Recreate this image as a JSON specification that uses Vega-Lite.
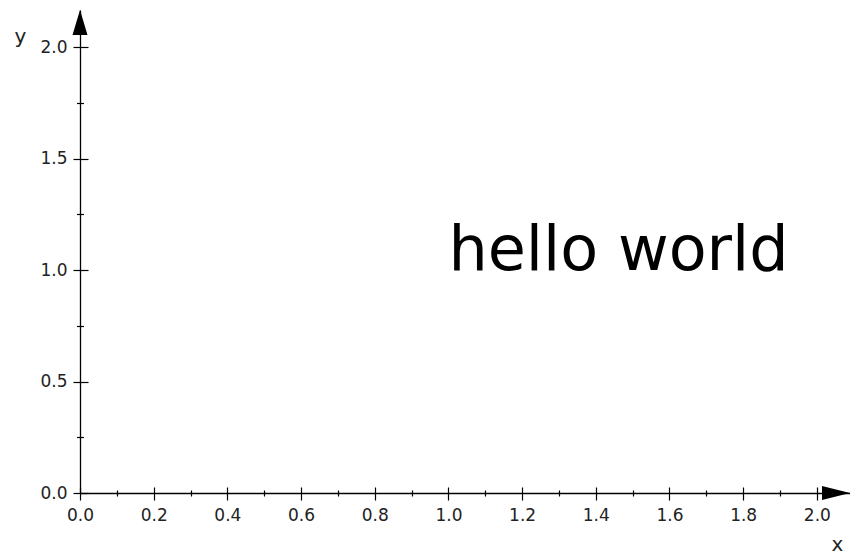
{
  "$schema": "https://vega.github.io/schema/vega-lite/v6.json",
  "width": 770,
  "height": 483,
  "autosize": "none",
  "padding": {"left": 80, "top": 10, "right": 0, "bottom": 63},
  "background": "white",
  "config": {
    "view": {"stroke": null},
    "axis": {
      "grid": false,
      "labelFont": "DejaVu Sans",
      "titleFont": "DejaVu Sans",
      "labelColor": "#222",
      "titleColor": "#222",
      "titleFontWeight": "normal",
      "titleFontSize": 20,
      "tickColor": "#000",
      "domainColor": "#000",
      "labelFontSize": 17,
      "tickWidth": 1.2,
      "domainWidth": 1.3,
      "labelFlush": false,
      "labelOverlap": false
    }
  },
  "resolve": {"axis": {"x": "independent", "y": "independent"}},
  "layer": [
    {
      "data": {"values": [{"x": 1, "y": 1, "label": "hello world"}]},
      "mark": {"type": "text", "align": "left", "baseline": "alphabetic", "fontSize": 62, "font": "DejaVu Sans", "color": "#000"},
      "encoding": {
        "x": {"field": "x", "type": "quantitative", "scale": {"domain": [0, 2.09], "nice": false, "zero": false},
          "axis": {"orient": "bottom", "values": [0, 0.2, 0.4, 0.6, 0.8, 1.0, 1.2, 1.4, 1.6, 1.8, 2.0], "offset": -6, "tickSize": 13, "domain": false, "labelPadding": 7, "format": ".1f", "title": null}},
        "y": {"field": "y", "type": "quantitative", "scale": {"domain": [0, 2.166], "nice": false, "zero": false},
          "axis": {"orient": "left", "values": [0, 0.5, 1.0, 1.5, 2.0], "offset": -8, "tickSize": 15, "domain": false, "labelPadding": 6, "format": ".1f", "title": null}},
        "text": {"field": "label"}
      }
    },
    {
      "data": {"values": [{"x": 2.09, "y": 0}]},
      "mark": {"type": "point", "shape": "M0,0L-2,-0.5L-2,0.5Z", "size": 784, "filled": true, "color": "#000", "opacity": 1, "strokeWidth": 0},
      "encoding": {
        "x": {"field": "x", "type": "quantitative", "scale": {"domain": [0, 2.09], "nice": false, "zero": false},
          "axis": {"orient": "bottom", "values": [0.1, 0.3, 0.5, 0.7, 0.9, 1.1, 1.3, 1.5, 1.7, 1.9], "offset": -3, "tickSize": 6, "domain": false, "labels": false, "title": null}},
        "y": {"field": "y", "type": "quantitative", "scale": {"domain": [0, 2.166], "nice": false, "zero": false},
          "axis": {"orient": "left", "values": [0.25, 0.75, 1.25, 1.75], "offset": -3.5, "tickSize": 7, "domain": false, "labels": false, "title": null}}
      }
    },
    {
      "data": {"values": [{"x": 0, "y": 2.166}]},
      "mark": {"type": "point", "shape": "M0,0L-0.6,2L0.6,2Z", "size": 625, "filled": true, "color": "#000", "opacity": 1, "strokeWidth": 0},
      "encoding": {
        "x": {"field": "x", "type": "quantitative", "scale": {"domain": [0, 2.09], "nice": false, "zero": false},
          "axis": {"orient": "bottom", "ticks": false, "labels": false, "domain": true, "title": "x", "titleX": 757, "titleY": 57, "titleBaseline": "alphabetic", "titleAlign": "center", "titleAngle": 0}},
        "y": {"field": "y", "type": "quantitative", "scale": {"domain": [0, 2.166], "nice": false, "zero": false},
          "axis": {"orient": "left", "ticks": false, "labels": false, "domain": true, "title": "y", "titleX": -60, "titleY": 32, "titleBaseline": "alphabetic", "titleAlign": "center", "titleAngle": 0}}
      }
    }
  ]
}
